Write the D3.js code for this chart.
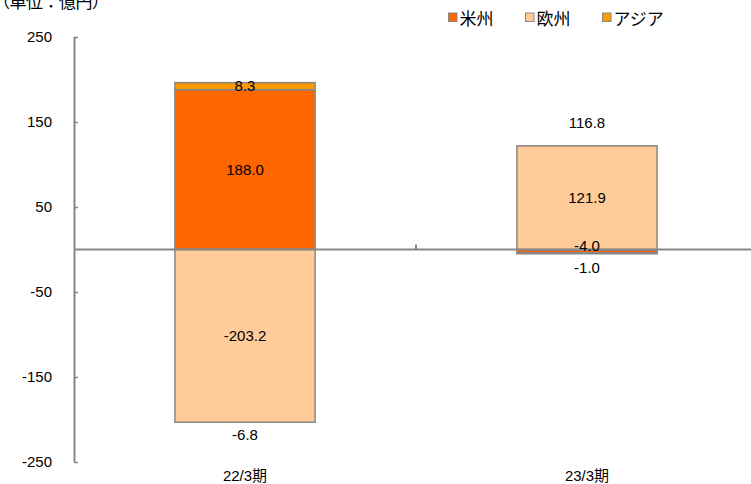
<!DOCTYPE html>
<html><head><meta charset="utf-8">
<script src="https://cdn.jsdelivr.net/npm/d3@7"></script>
<style>
html,body{margin:0;padding:0;background:#fff;}
svg{display:block;font-family:"Liberation Sans",Arial,"Noto Sans CJK JP",sans-serif;}
</style></head>
<body><svg id="c" width="751" height="484"></svg>
<script>
// ---- data ----
const categories = ["22/3期", "23/3期"];
const seriesNames = ["米州", "欧州", "アジア"];
const americas = [188.0, -4.0];
const europe = [-203.2, 121.9];
const asia = [8.3, -1.0];
const totals = [-6.8, 116.8];
const yTicks = [250, 150, 50, -50, -150, -250];
const unitLabel = "（単位：億円）";

(function () {
const colors = {"米州": "#FF6600", "欧州": "#FFCC99", "アジア": "#FF9900"};
const seriesValues = {"米州": americas, "欧州": europe, "アジア": asia};
const fmt = v => v.toFixed(1);

const svg = d3.select("#c");
const W = 751, H = 484;
const pLeft = 74, pRight = 758, pTop = 37, pBottom = 462;

const y = d3.scaleLinear().domain([-250, 250]).range([pBottom, pTop]);
const x = d3.scaleBand().domain(categories).range([pLeft, pRight]).padding(0);
const barW = x.bandwidth() * 0.41;

// stacking (positive/negative separately)
const segs = [];
categories.forEach((c, i) => {
  let pos = 0, neg = 0;
  seriesNames.forEach(s => {
    const v = seriesValues[s][i];
    let y0, y1;
    if (v >= 0) { y0 = pos; y1 = pos + v; pos = y1; }
    else { y0 = neg; y1 = neg + v; neg = y1; }
    segs.push({cat: c, i, s, v, y0, y1});
  });
});

const grey = "#878787";

// bars
svg.append("g").selectAll("rect").data(segs).join("rect")
  .attr("x", d => x(d.cat) + (x.bandwidth() - barW) / 2)
  .attr("y", d => y(Math.max(d.y0, d.y1)))
  .attr("width", barW)
  .attr("height", d => Math.abs(y(d.y0) - y(d.y1)))
  .attr("fill", d => colors[d.s])
  .attr("stroke", grey)
  .attr("stroke-width", 1.5);

// y axis
const yAxis = d3.axisRight(y).tickValues(yTicks).tickSize(4).tickFormat("");
const gy = svg.append("g").attr("transform", `translate(${pLeft},0)`).call(yAxis);
gy.select(".domain").attr("stroke", grey).attr("stroke-width", 2).attr("d", `M0.5,${pTop}V${pBottom}`);
gy.selectAll(".tick line").attr("stroke", grey).attr("stroke-width", 1.5);

svg.append("g").selectAll("text").data(yTicks).join("text")
  .attr("x", 52).attr("y", d => y(d)).attr("dy", "0.35em")
  .attr("text-anchor", "end").attr("font-size", 15).attr("fill", "#000")
  .text(d => String(d));

// zero line (category axis)
svg.append("line").attr("x1", pLeft).attr("x2", W).attr("y1", y(0)).attr("y2", y(0))
  .attr("stroke", grey).attr("stroke-width", 2);
categories.forEach((c, i) => {
  if (i === 0) return;
  svg.append("line").attr("x1", x(c)).attr("x2", x(c))
    .attr("y1", y(0)).attr("y2", y(0) - 5).attr("stroke", grey).attr("stroke-width", 2);
});

// category labels
svg.append("g").selectAll("text").data(categories).join("text")
  .attr("x", d => x(d) + x.bandwidth() / 2).attr("y", 476).attr("dy", "0.35em")
  .attr("text-anchor", "middle").attr("font-size", 15).text(d => d);

// segment labels
const nudge = {"23/3期|アジア": 14, "23/3期|米州": -5};
svg.append("g").selectAll("text").data(segs).join("text")
  .attr("x", d => x(d.cat) + x.bandwidth() / 2)
  .attr("y", d => y((d.y0 + d.y1) / 2) + (nudge[d.cat + "|" + d.s] || 0))
  .attr("dy", "0.35em").attr("text-anchor", "middle").attr("font-size", 15)
  .text(d => fmt(d.v));

// total labels (placed beyond stack end)
const totalOffset = [13, -23];
svg.append("g").selectAll("text").data(totals).join("text")
  .attr("x", (d, i) => x(categories[i]) + x.bandwidth() / 2)
  .attr("y", (d, i) => {
    const ss = segs.filter(s => s.i === i);
    const ext = d < 0 ? d3.min(ss, s => Math.min(s.y0, s.y1)) : d3.max(ss, s => Math.max(s.y0, s.y1));
    return y(ext) + totalOffset[i];
  })
  .attr("dy", "0.35em").attr("text-anchor", "middle").attr("font-size", 15)
  .text(d => fmt(d));

// legend
const lg = svg.append("g");
seriesNames.forEach((s, i) => {
  const gx = 448.5 + i * 77;
  lg.append("rect").attr("x", gx).attr("y", 13).attr("width", 8.5).attr("height", 8.5)
    .attr("fill", colors[s]).attr("stroke", grey).attr("stroke-width", 1);
  lg.append("text").attr("x", gx + 11).attr("y", 19).attr("dy", "0.35em")
    .attr("font-size", 17).attr("font-family", "'Noto Sans CJK JP',sans-serif").text(s);
});

// unit label
svg.append("text").attr("x", -7).attr("y", 8).attr("font-size", 17).attr("letter-spacing", -0.5)
  .attr("font-family", "'Noto Sans CJK JP',sans-serif").text(unitLabel);
})();
</script></body></html>
